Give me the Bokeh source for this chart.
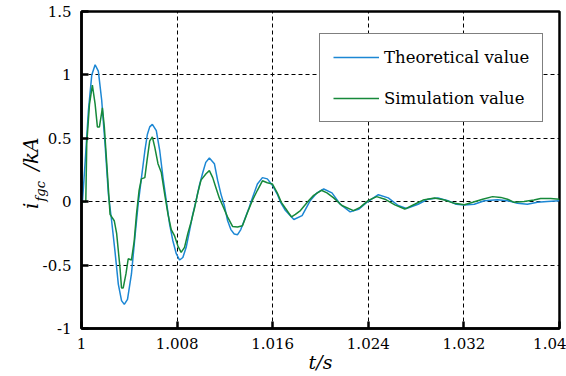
import numpy as np
from bokeh.plotting import figure
from bokeh.models import Range1d, FixedTicker, Legend, LegendItem, Label
from bokeh.embed import file_html
from bokeh.resources import INLINE

# ---------------- data ----------------
t_theory = [1.00000, 1.00008, 1.00031, 1.00058, 1.00086, 1.00114, 1.00141, 1.00169, 1.00197, 1.00225,
            1.00252, 1.00280, 1.00308, 1.00335, 1.00358, 1.00385, 1.00418, 1.00447, 1.00474, 1.00502,
            1.00530, 1.00551, 1.00571, 1.00593, 1.00626, 1.00655, 1.00682, 1.00709, 1.00738, 1.00765,
            1.00793, 1.00821, 1.00848, 1.00876, 1.00904, 1.00931, 1.00959, 1.00987, 1.01015, 1.01040,
            1.01070, 1.01112, 1.01139, 1.01167, 1.01195, 1.01223, 1.01250, 1.01278, 1.01306, 1.01333,
            1.01361, 1.01403, 1.01430, 1.01472, 1.01514, 1.01555, 1.01597, 1.01638, 1.01666, 1.01707,
            1.01777, 1.01846, 1.01915, 1.01971, 1.02027, 1.02096, 1.02165, 1.02248, 1.02318, 1.02387,
            1.02484, 1.02567, 1.02650, 1.02719, 1.02817, 1.02900, 1.02983, 1.03066, 1.03135, 1.03204,
            1.03287, 1.03371, 1.03482, 1.03565, 1.03648, 1.03731, 1.03815, 1.03898, 1.04000]
i_theory = [0.0, 0.0, 0.32, 0.72, 1.00, 1.08, 1.03, 0.80, 0.455, 0.06,
            -0.15, -0.39, -0.65, -0.78, -0.81, -0.77, -0.57, -0.28, -0.02, 0.19,
            0.40, 0.53, 0.59, 0.61, 0.56, 0.40, 0.19, 0.01, -0.18, -0.31,
            -0.41, -0.46, -0.44, -0.36, -0.23, -0.10, 0.01, 0.13, 0.23, 0.31,
            0.345, 0.30, 0.17, 0.06, -0.03, -0.15, -0.22, -0.255, -0.26, -0.22,
            -0.15, -0.045, 0.03, 0.14, 0.19, 0.18, 0.13, 0.06, -0.005, -0.07,
            -0.14, -0.11, 0.01, 0.07, 0.10, 0.07, -0.02, -0.08, -0.06, -0.005,
            0.055, 0.03, -0.03, -0.053, -0.02, 0.02, 0.03, 0.008, -0.02, -0.026,
            -0.02, 0.008, 0.016, 0.008, -0.013, -0.02, -0.005, 0.002, 0.008]

t_sim = [1.00000, 1.00036, 1.00044, 1.00067, 1.00091, 1.00114, 1.00133, 1.00150, 1.00175, 1.00191,
         1.00210, 1.00239, 1.00274, 1.00294, 1.00322, 1.00335, 1.00349, 1.00372, 1.00391, 1.00418,
         1.00441, 1.00460, 1.00482, 1.00501, 1.00530, 1.00549, 1.00571, 1.00593, 1.00613, 1.00640,
         1.00668, 1.00696, 1.00724, 1.00751, 1.00779, 1.00807, 1.00834, 1.00862, 1.00890, 1.00917,
         1.00946, 1.00973, 1.01000, 1.01042, 1.01070, 1.01098, 1.01125, 1.01153, 1.01181, 1.01222,
         1.01264, 1.01306, 1.01347, 1.01389, 1.01430, 1.01472, 1.01514, 1.01555, 1.01597, 1.01638,
         1.01672, 1.01705, 1.01757, 1.01790, 1.01832, 1.01902, 1.01943, 1.02007, 1.02054, 1.02110,
         1.02179, 1.02276, 1.02331, 1.02401, 1.02470, 1.02539, 1.02622, 1.02705, 1.02788, 1.02858,
         1.02955, 1.03038, 1.03121, 1.03204, 1.03274, 1.03357, 1.03440, 1.03509, 1.03565, 1.03620,
         1.03703, 1.03786, 1.03842, 1.03925, 1.04000]
i_sim = [0.0, 0.0, 0.46, 0.77, 0.92, 0.77, 0.59, 0.59, 0.74, 0.59,
         0.32, -0.10, -0.15, -0.25, -0.52, -0.68, -0.68, -0.57, -0.45, -0.46,
         -0.31, -0.10, 0.09, 0.18, 0.19, 0.33, 0.48, 0.51, 0.43, 0.30,
         0.23, 0.06, -0.10, -0.22, -0.27, -0.35, -0.40, -0.36, -0.25, -0.16,
         -0.05, 0.07, 0.17, 0.22, 0.245, 0.19, 0.11, 0.03, -0.03, -0.12,
         -0.195, -0.20, -0.19, -0.085, 0.01, 0.09, 0.165, 0.15, 0.14, 0.07,
         -0.005, -0.05, -0.12, -0.10, -0.07, 0.01, 0.05, 0.09, 0.07, 0.03,
         -0.03, -0.07, -0.045, 0.01, 0.04, 0.02, -0.025, -0.058, -0.02, 0.013,
         0.03, 0.013, -0.013, -0.024, -0.005, 0.02, 0.04, 0.034, 0.02, -0.005,
         0.002, 0.013, 0.026, 0.026, 0.02]

x_ticks = [1.0, 1.008, 1.016, 1.024, 1.032, 1.04]
x_tick_labels = ["1", "1.008", "1.016", "1.024", "1.032", "1.04"]
y_ticks = [-1.0, -0.5, 0.0, 0.5, 1.0, 1.5]
y_tick_labels = ["-1", "-0.5", "0", "0.5", "1", "1.5"]
series_names = ["Theoretical value", "Simulation value"]
x_title = "t/s"
y_title_main = "i\u00a0\u00a0\u00a0\u00a0\u00a0/kA\u00a0"
y_title_sub = "fgc"

assert len(t_theory) == len(i_theory)
assert len(t_sim) == len(i_sim)

# ---------------- figure ----------------
FONT = "DejaVu Serif"
BLUE = "#1C87D4"
GREEN = "#16893A"

p = figure(width=566, height=376, output_backend="svg", toolbar_location=None,
           x_range=Range1d(1.0, 1.04), y_range=Range1d(-1.0, 1.5),
           min_border_left=78, min_border_right=7, min_border_top=11, min_border_bottom=48)
p.background_fill_color = "white"
p.border_fill_color = "white"
p.outline_line_color = "black"
p.outline_line_width = 2.5

for ax, ticks, labels in ((p.xaxis[0], x_ticks, x_tick_labels), (p.yaxis[0], y_ticks, y_tick_labels)):
    ax.ticker = FixedTicker(ticks=ticks)
    ax.major_label_overrides = {tv: lb for tv, lb in zip(ticks, labels)}
    ax.axis_line_color = "black"
    ax.axis_line_width = 2.5
    ax.major_tick_in = 7
    ax.major_tick_out = 0
    ax.major_tick_line_width = 2.5
    ax.major_tick_line_color = "black"
    ax.minor_tick_line_color = None
    ax.major_label_text_font = FONT
    ax.major_label_text_font_size = "15px"
    ax.major_label_text_color = "black"
    ax.axis_label_text_font = FONT
    ax.axis_label_text_font_style = "italic"
    ax.axis_label_text_color = "black"
    ax.axis_label_text_font_size = "20px"

p.xaxis[0].major_label_standoff = 9
p.xaxis[0].axis_label = x_title
p.xaxis[0].axis_label_text_font_size = "19px"
p.xaxis[0].axis_label_standoff = -1
p.yaxis[0].major_label_standoff = 10
p.yaxis[0].axis_label = y_title_main
p.yaxis[0].axis_label_standoff = -3

for g, ticks in ((p.xgrid[0], x_ticks), (p.ygrid[0], y_ticks)):
    g.ticker = FixedTicker(ticks=ticks)
    g.grid_line_color = "black"
    g.grid_line_width = 1
    g.grid_line_dash = "4 3"

r_theory = p.line(t_theory, i_theory, line_color=BLUE, line_width=1.5)
r_sim = p.line(t_sim, i_sim, line_color=GREEN, line_width=1.5)

legend = Legend(items=[LegendItem(label=series_names[0], renderers=[r_theory]),
                       LegendItem(label=series_names[1], renderers=[r_sim])],
                location=(238, 206), margin=0, padding=13, spacing=21,
                glyph_width=46, glyph_height=20, label_height=20, label_standoff=5,
                label_text_font=FONT, label_text_font_size="16.5px", label_text_color="black",
                border_line_color="black", border_line_width=1.5,
                background_fill_color="white", background_fill_alpha=1.0)
p.add_layout(legend)

# subscript of the y title, placed in the left side panel (canvas coordinates)
p.add_layout(Label(x=40, y=201, x_units="canvas", y_units="canvas", text=y_title_sub,
                   angle=np.pi / 2, text_font=FONT, text_font_style="italic", text_font_size="13px",
                   text_color="black", text_align="left", text_baseline="alphabetic"), "left")

open("out.html", "w").write(file_html(p, INLINE))
